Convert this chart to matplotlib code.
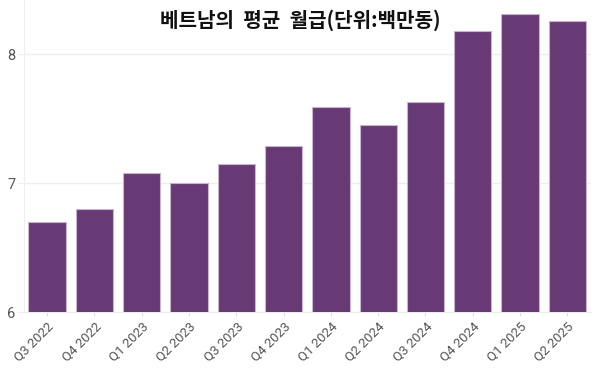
#!/usr/bin/env python3
"""
Vietnam average monthly wage bar chart
"""
import matplotlib
matplotlib.use('Agg')
import matplotlib.pyplot as plt
import numpy as np

quarters = ['Q3 2022', 'Q4 2022', 'Q1 2023', 'Q2 2023', 'Q3 2023', 'Q4 2023',
            'Q1 2024', 'Q2 2024', 'Q3 2024', 'Q4 2024', 'Q1 2025', 'Q2 2025']
wages = [6.70, 6.80, 7.08, 7.00, 7.15, 7.29, 7.59, 7.45, 7.63, 8.18, 8.31, 8.26]
title = '베트남의  평균  월급(단위:백만동)'


def main():
    plt.rcParams['font.family'] = ['Roboto', 'Noto Sans CJK KR', 'DejaVu Sans']
    fig = plt.figure(figsize=(6.0, 3.68), dpi=100)
    ax = fig.add_axes([0.04, 0.152, 0.945, 0.848])
    x = np.arange(len(quarters))
    ax.bar(x, wages, width=0.79, color='#673a75', edgecolor='#c9b3cf',
           linewidth=0.8, zorder=3)
    ax.set_xlim(-0.49, 11.5)
    ax.set_ylim(6, 8.42)
    ax.set_yticks([6, 7, 8])
    ax.set_xticks(x)
    ax.set_xticklabels(quarters, rotation=45, ha='right',
                       rotation_mode='anchor', fontsize=9.5, color='#555555')
    ax.tick_params(axis='y', length=4, color='#eeeeee', labelsize=10.5,
                   labelcolor='#555555', pad=2)
    ax.tick_params(axis='x', length=3, color='#dddddd', pad=3)
    ax.grid(axis='y', color='#eeeeee', linewidth=1, zorder=0)
    for side in ['top', 'right']:
        ax.spines[side].set_visible(False)
    ax.spines['left'].set_color('#eeeeee')
    ax.spines['bottom'].set_color('#eeeeee')
    fig.text(0.5, 0.946, title, ha='center', va='center', fontsize=14.5,
             fontweight='bold', color='#111111',
             family=['Noto Sans CJK KR', 'DejaVu Sans'])
    fig.savefig('out.png', dpi=100)


if __name__ == "__main__":
    main()
